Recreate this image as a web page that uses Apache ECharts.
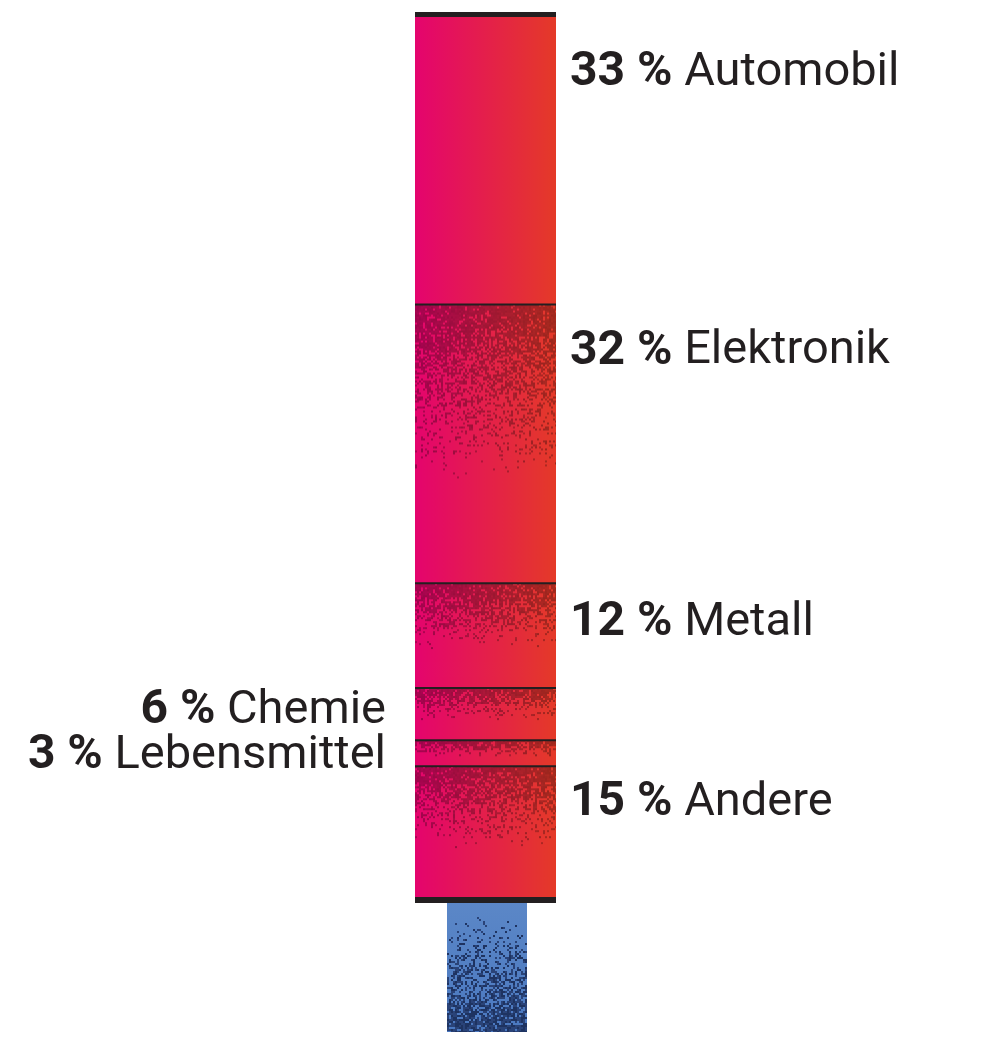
<!DOCTYPE html>
<html>
<head>
<meta charset="utf-8">
<script src="https://cdn.jsdelivr.net/npm/echarts@6/dist/echarts.min.js"></script>
<style>
  html, body { margin: 0; background: #fff; }
  #chart { width: 1000px; height: 1043px; }
</style>
</head>
<body>
<div id="chart"></div>
<script>
// Branchen, von oben nach unten
const kategorien = ['Automobil', 'Elektronik', 'Metall', 'Chemie', 'Lebensmittel', 'Andere'];
const anteile = [33, 32, 12, 6, 3, 15];
const sockel = [1];

// Layout der Beschriftungen (nicht Daten)
const labelSeite = ['right', 'right', 'right', 'left', 'left', 'right'];
const labelDy = [56, 47, 40, 23, 16, 37];
const koernig = [false, true, true, true, true, true];

const summe = anteile.reduce((a, b) => a + b, 0);
let cum = 0;
const segmente = anteile.map((v) => {
    const s = cum;
    cum += v;
    return [0, s, cum];
});

// einfacher Zufallsgenerator fuer die Koernung (nur Textur)
function rng(seed) {
    return function () {
        seed = (seed * 1664525 + 1013904223) >>> 0;
        return seed / 4294967296;
    };
}

function lerp(a, b, t) {
    return [0, 1, 2].map(i => Math.round(a[i] + (b[i] - a[i]) * t));
}

const links = [228, 4, 110];
const rechts = [228, 58, 40];
const texturCache = {};

function rotTextur(w, h, koernung, seed) {
    const key = w + 'x' + h + '_' + koernung;
    if (texturCache[key]) return texturCache[key];
    const c = document.createElement('canvas');
    c.width = w; c.height = h;
    const ctx = c.getContext('2d');
    const g = ctx.createLinearGradient(0, 0, w, 0);
    g.addColorStop(0, 'rgb(' + links.join(',') + ')');
    g.addColorStop(1, 'rgb(' + rechts.join(',') + ')');
    ctx.fillStyle = g;
    ctx.fillRect(0, 0, w, h);
    if (koernung) {
        const r = rng(seed);
        const fade = h * 0.62;
        for (let y = 0; y < h; y += 2) {
            const p = Math.max(0, 1 - y / fade);
            const dichte = Math.pow(p, 1.2) * 0.93;
            for (let x = 0; x < w; x += 2) {
                if (r() < dichte) {
                    const f = 0.68 + r() * 0.08;
                    const col = lerp(links, rechts, x / w).map(v => Math.round(v * f));
                    ctx.fillStyle = 'rgb(' + col.join(',') + ')';
                    ctx.fillRect(x, y, 2, 2);
                }
            }
        }
    }
    texturCache[key] = c;
    return c;
}

function blauTextur(w, h) {
    const key = 'blau' + w + 'x' + h;
    if (texturCache[key]) return texturCache[key];
    const c = document.createElement('canvas');
    c.width = w; c.height = h;
    const ctx = c.getContext('2d');
    const g = ctx.createLinearGradient(0, 0, 0, h);
    g.addColorStop(0, '#5b87c7');
    g.addColorStop(1, '#4a78c0');
    ctx.fillStyle = g;
    ctx.fillRect(0, 0, w, h);
    const r = rng(77);
    for (let y = 0; y < h; y += 2) {
        const t = Math.max(0, (y / h - 0.1) / 0.9);
        const dichte = Math.pow(t, 1.0) * 0.88;
        for (let x = 0; x < w; x += 2) {
            if (r() < dichte) {
                ctx.fillStyle = r() < 0.5 ? '#1e3361' : '#2a4378';
                ctx.fillRect(x, y, 2, 2);
            }
        }
    }
    texturCache[key] = c;
    return c;
}

const textFarbe = '#231f20';
const rich = {
    b: { fontFamily: 'Roboto', fontWeight: 'bold', fontSize: 48, fill: textFarbe },
    r: { fontFamily: 'Roboto', fontWeight: 'normal', fontSize: 47, fill: textFarbe }
};

const chart = echarts.init(document.getElementById('chart'));

const option = {
    backgroundColor: '#ffffff',
    animation: false,
    grid: [
        { left: 415, width: 141, top: 17, bottom: 146 },
        { left: 447, width: 80, top: 903, height: 129 }
    ],
    xAxis: [
        { type: 'category', gridIndex: 0, data: ['Anteil'], show: false },
        { type: 'category', gridIndex: 1, data: ['Sockel'], show: false }
    ],
    yAxis: [
        { type: 'value', gridIndex: 0, min: 0, max: summe, inverse: true, show: false },
        { type: 'value', gridIndex: 1, min: 0, max: 1, inverse: true, show: false }
    ],
    series: [
        {
            type: 'custom',
            xAxisIndex: 0,
            yAxisIndex: 0,
            data: segmente,
            encode: { x: 0, y: [1, 2] },
            renderItem: function (params, api) {
                const i = params.dataIndex;
                const cs = params.coordSys;
                const y0 = api.coord([0, api.value(1)])[1];
                const y1 = api.coord([0, api.value(2)])[1];
                const x0 = cs.x, w = cs.width;
                const h = Math.round(y1 - y0);
                const children = [{
                    type: 'image',
                    style: {
                        image: rotTextur(w, h, koernig[i], 11 + i * 31),
                        x: x0, y: y0, width: w, height: y1 - y0
                    }
                }];
                if (i === 0) {
                    children.push({ type: 'rect', shape: { x: x0, y: y0 - 5, width: w, height: 5 }, style: { fill: textFarbe } });
                } else {
                    children.push({ type: 'rect', shape: { x: x0, y: y0 - 1, width: w, height: 2 }, style: { fill: textFarbe } });
                }
                if (i === anteile.length - 1) {
                    children.push({ type: 'rect', shape: { x: x0, y: y1, width: w, height: 6 }, style: { fill: textFarbe } });
                }
                const rechtsSeite = labelSeite[i] === 'right';
                children.push({
                    type: 'text',
                    style: {
                        text: '{b|' + anteile[i] + ' %}{r| ' + kategorien[i] + '}',
                        rich: rich,
                        x: rechtsSeite ? x0 + w + 14 : x0 - 29,
                        y: y0 + labelDy[i],
                        align: rechtsSeite ? 'left' : 'right',
                        verticalAlign: 'middle'
                    }
                });
                return { type: 'group', children: children };
            }
        },
        {
            type: 'custom',
            xAxisIndex: 1,
            yAxisIndex: 1,
            data: sockel.map(v => [0, 0, v]),
            encode: { x: 0, y: [1, 2] },
            renderItem: function (params, api) {
                const cs = params.coordSys;
                const y0 = api.coord([0, api.value(1)])[1];
                const y1 = api.coord([0, api.value(2)])[1];
                return {
                    type: 'image',
                    style: {
                        image: blauTextur(cs.width, Math.round(y1 - y0)),
                        x: cs.x, y: y0, width: cs.width, height: y1 - y0
                    }
                };
            }
        }
    ]
};

chart.setOption(option);
</script>
</body>
</html>
